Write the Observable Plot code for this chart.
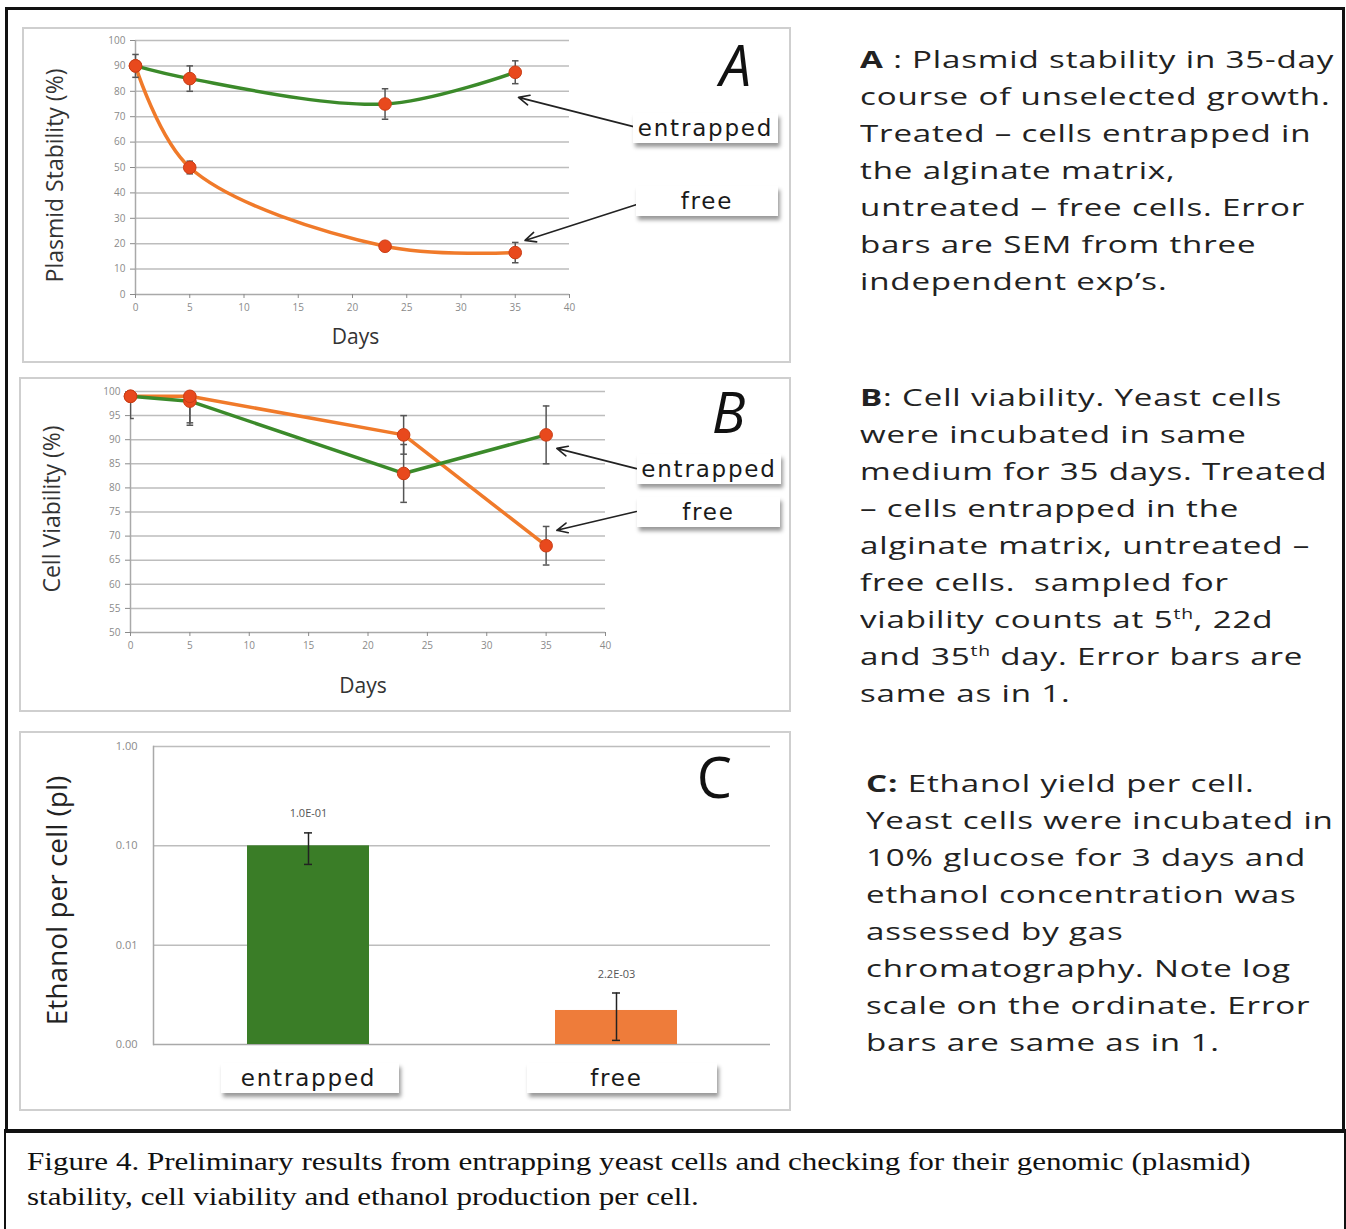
<!DOCTYPE html>
<html><head><meta charset="utf-8">
<script src="https://cdn.jsdelivr.net/npm/d3@7"></script>
<script src="https://cdn.jsdelivr.net/npm/@observablehq/plot@0.6"></script>
<style>
body{margin:0;background:#fff;width:1346px;height:1229px;position:relative;overflow:hidden;}
.panel{position:absolute;border:2px solid #cfcfcf;box-sizing:border-box;}
.holder{position:absolute;z-index:1;}
.callout{position:absolute;z-index:2;background:#fff;box-shadow:2px 4px 4px rgba(0,0,0,0.4);font-family:"DejaVu Sans",sans-serif;font-size:23px;color:#1a1a1a;text-align:center;line-height:30px;letter-spacing:1.8px;}
.catbox{position:absolute;z-index:0;background:#fff;box-shadow:2px 4px 4px rgba(0,0,0,0.4);}
.desc{position:absolute;font-family:"Open Sans",sans-serif;font-size:24px;line-height:37px;color:#222;white-space:nowrap;letter-spacing:0.6px;transform:scaleX(1.38);transform-origin:0 0;}
.desc sup{font-size:14px;line-height:0;}
.caption{position:absolute;left:27px;top:1144px;font-family:"Liberation Serif","Times New Roman",serif;font-size:26px;line-height:35px;color:#111;white-space:nowrap;transform:scaleX(1.195);transform-origin:0 0;}
.bline{position:absolute;background:#111;}
#C svg g[aria-label="x-axis tick label"] text{letter-spacing:1.8px;}
</style></head><body>
<div class="bline" style="left:5px;top:7px;width:1339px;height:3px"></div>
<div class="bline" style="left:5px;top:7px;width:3px;height:1125px"></div>
<div class="bline" style="left:1342px;top:7px;width:3px;height:1125px"></div>
<div class="bline" style="left:4px;top:1129px;width:1342px;height:4px"></div>
<div class="bline" style="left:4px;top:1130px;width:2px;height:99px"></div>
<div class="bline" style="left:1344px;top:1130px;width:2px;height:99px"></div>

<div class="panel" style="left:22px;top:27px;width:769px;height:336px"></div>
<div class="panel" style="left:19px;top:377px;width:772px;height:335px"></div>
<div class="panel" style="left:19px;top:731px;width:772px;height:380px"></div>

<div id="A" class="holder" style="left:23px;top:28px"></div>
<div id="B" class="holder" style="left:20px;top:378px"></div>
<div id="C" class="holder" style="left:20px;top:732px"></div>

<div class="callout" style="left:633px;top:113px;width:145px;height:30px">entrapped</div>
<div class="callout" style="left:636px;top:186px;width:142px;height:30px">free</div>
<div class="callout" style="left:637px;top:454px;width:144px;height:30px">entrapped</div>
<div class="callout" style="left:637px;top:497px;width:143px;height:30px">free</div>

<div class="desc" style="left:860px;top:40px">
<div><b>A</b> : Plasmid stability in 35-day</div>
<div>course of unselected growth.</div>
<div>Treated – cells entrapped in</div>
<div>the alginate matrix,</div>
<div>untreated – free cells. Error</div>
<div>bars are SEM from three</div>
<div>independent exp’s.</div>
</div>
<div class="desc" style="left:860px;top:378px">
<div><b>B</b>: Cell viability. Yeast cells</div>
<div>were incubated in same</div>
<div>medium for 35 days. Treated</div>
<div>– cells entrapped in the</div>
<div>alginate matrix, untreated –</div>
<div>free cells.&nbsp; sampled for</div>
<div>viability counts at 5<sup>th</sup>, 22d</div>
<div>and 35<sup>th</sup> day. Error bars are</div>
<div>same as in 1.</div>
</div>
<div class="desc" style="left:866px;top:764px">
<div><b>C:</b> Ethanol yield per cell.</div>
<div>Yeast cells were incubated in</div>
<div>10% glucose for 3 days and</div>
<div>ethanol concentration was</div>
<div>assessed by gas</div>
<div>chromatography. Note log</div>
<div>scale on the ordinate. Error</div>
<div>bars are same as in 1.</div>
</div>
<div class="caption">Figure 4. Preliminary results from entrapping yeast cells and checking for their genomic (plasmid)<br>stability, cell viability and ethanol production per cell.</div>

<script>
// ---------- data ----------
const days = [0, 5, 23, 35];
const plasmidEntrapped = [90, 85, 75, 87.5];
const plasmidEntrappedErr = [4.5, 5, 6, 4.5];
const plasmidFree = [90, 50, 19, 16.5];
const plasmidFreeErr = [1.5, 2.5, 1, 4];

const viabilityEntrapped = [99, 98, 83, 91];
const viabilityEntrappedErr = [4.6, 5, 6, 6];
const viabilityFree = [99, 99, 91, 68];
const viabilityFreeErr = [1, 5.5, 4, 4];

const categories = ["entrapped", "free"];
const ethanol = [0.1, 0.0022];
const ethanolErr = [0.035, 0.0011];

const xTicks = [0, 5, 10, 15, 20, 25, 30, 35, 40];
const plasmidTicks = [0, 10, 20, 30, 40, 50, 60, 70, 80, 90, 100];
const viabilityTicks = [50, 55, 60, 65, 70, 75, 80, 85, 90, 95, 100];
const ethanolTicks = [0.001, 0.01, 0.1, 1];

// callout arrows (data units: from label to series end)
const arrowsA = [{x1: 45.9, y1: 66.1, x2: 35.3, y2: 77.6}, {x1: 46.2, y1: 35.4, x2: 35.9, y2: 21.3}];
const arrowsB = [{x1: 42.6, y1: 84.0, x2: 35.9, y2: 88.2}, {x1: 42.6, y1: 75.1, x2: 35.9, y2: 71.2}];

// ---------- styles ----------
const GREEN = "#3b8a2a", ORANGE = "#f07a2a", DOT = "#e8491d", DOTS = "#c93d15";
const GRID = "#bdbdbd", AX = "#a9a9a9", TICK = "#8a8a8a";
const FONT = "Open Sans, sans-serif";

function rowsOf(ent, entErr, fr, frErr) {
  const e = days.map((d, i) => ({day: d, v: ent[i], e: entErr[i], s: "entrapped"}));
  const f = days.map((d, i) => ({day: d, v: fr[i], e: frErr[i], s: "free"}));
  return {e, f, all: e.concat(f)};
}

function linePanel({rows, w, h, ml, mr, mt, mb, ydom, yticks, grid, curve, letter, letterDx, letterDy, ytitle, ytDx, ytDy, ytSize, daysDx, daysDy, arrows, capW, clipErr}) {
  return Plot.plot({
    width: w, height: h, marginLeft: ml, marginRight: mr, marginTop: mt, marginBottom: mb,
    style: {background: "transparent", fontFamily: FONT, overflow: "visible"},
    x: {domain: [0, 40]},
    y: {domain: ydom},
    marks: [
      Plot.gridY(grid, {stroke: GRID, strokeOpacity: 1, strokeWidth: 1.5}),
      Plot.ruleY([ydom[0]], {stroke: AX, strokeWidth: 1.5}),
      Plot.ruleX([0], {stroke: AX, strokeWidth: 1.5}),
      Plot.axisY({ticks: yticks, tickSize: 5, tickPadding: 5, fontSize: 10, color: TICK, label: null}),
      Plot.axisX({ticks: xTicks, tickSize: 4, tickPadding: 5, fontSize: 10, color: TICK, label: null}),
      Plot.line(rows.f, {x: "day", y: "v", stroke: ORANGE, strokeWidth: 3.5, curve}),
      Plot.line(rows.e, {x: "day", y: "v", stroke: GREEN, strokeWidth: 3.5, curve}),
      Plot.ruleX(rows.all, {x: "day", y1: d => d.v - d.e, y2: d => d.v + d.e, stroke: "#555", strokeWidth: 1.5, clip: clipErr}),
      Plot.link(rows.all, {x1: d => d.day - capW, x2: d => d.day + capW, y1: d => d.v - d.e, y2: d => d.v - d.e, stroke: "#555", strokeWidth: 1.5, clip: clipErr}),
      Plot.link(rows.all, {x1: d => d.day - capW, x2: d => d.day + capW, y1: d => d.v + d.e, y2: d => d.v + d.e, stroke: "#555", strokeWidth: 1.5, clip: clipErr}),
      Plot.dot(rows.all, {x: "day", y: "v", r: 6.3, fill: DOT, stroke: DOTS, strokeWidth: 1}),
      Plot.arrow(arrows, {x1: "x1", y1: "y1", x2: "x2", y2: "y2", stroke: "#222", strokeWidth: 1.6, headLength: 11, headAngle: 50}),
      Plot.text([letter], {frameAnchor: "top-right", dx: letterDx, dy: letterDy, textAnchor: "middle", lineAnchor: "middle", fontSize: 56, fontStyle: "italic", fill: "#111"}),
      Plot.text([ytitle], {frameAnchor: "left", rotate: -90, dx: ytDx, dy: ytDy, textAnchor: "middle", lineAnchor: "middle", fontSize: ytSize, fill: "#333"}),
      Plot.text(["Days"], {frameAnchor: "bottom", dx: daysDx, dy: daysDy, textAnchor: "middle", lineAnchor: "middle", fontSize: 21, fill: "#333"})
    ]
  });
}

const rowsA = rowsOf(plasmidEntrapped, plasmidEntrappedErr, plasmidFree, plasmidFreeErr);
document.getElementById("A").append(linePanel({
  rows: rowsA, w: 767, h: 334, ml: 112, mr: 221, mt: 12, mb: 68,
  ydom: [0, 100], yticks: plasmidTicks, grid: plasmidTicks.slice(1), curve: "catmull-rom",
  letter: "A", letterDx: 166, letterDy: 28,
  ytitle: "Plasmid Stability (%)", ytDx: -80, ytDy: 8, ytSize: 23,
  daysDx: 3, daysDy: 43, arrows: arrowsA, capW: 0.3, clipErr: false
}));

const rowsB = rowsOf(viabilityEntrapped, viabilityEntrappedErr, viabilityFree, viabilityFreeErr);
document.getElementById("B").append(linePanel({
  rows: rowsB, w: 770, h: 333, ml: 110, mr: 185, mt: 13, mb: 79,
  ydom: [50, 100], yticks: viabilityTicks, grid: viabilityTicks.slice(1), curve: "linear",
  letter: "B", letterDx: 123, letterDy: 24,
  ytitle: "Cell Viability (%)", ytDx: -78, ytDy: -3, ytSize: 23,
  daysDx: -5, daysDy: 54, arrows: arrowsB, capW: 0.28, clipErr: true
}));

// ---------- panel C ----------
const rowsC = categories.map((c, i) => ({cat: c, v: ethanol[i], e: ethanolErr[i]}));
const sci = v => { const [m, ex] = v.toExponential(1).split("e"); const n = +ex; return m + "E" + (n < 0 ? "-" : "+") + String(Math.abs(n)).padStart(2, "0"); };
const chartC = Plot.plot({
  width: 770, height: 378, marginLeft: 133, marginRight: 20, marginTop: 14, marginBottom: 66,
  style: {background: "transparent", fontFamily: FONT, overflow: "visible"},
  x: {domain: categories, paddingInner: 0.605, paddingOuter: 0.3025},
  y: {type: "log", domain: [0.001, 1]},
  marks: [
    Plot.gridY(ethanolTicks.slice(1), {stroke: GRID, strokeOpacity: 1, strokeWidth: 1.5}),
    Plot.ruleY([0.001], {stroke: AX, strokeWidth: 1.5}),
    Plot.frame({anchor: "left", stroke: AX, strokeWidth: 1.5}),
    Plot.barY(rowsC, {x: "cat", y1: 0.001, y2: "v", fill: d => d.cat === "entrapped" ? "#3a7d27" : "#ee7c3a"}),
    Plot.ruleX(rowsC, {x: "cat", y1: d => d.v - d.e, y2: d => d.v + d.e, stroke: "#222", strokeWidth: 1.5, clip: true}),
    Plot.tickY(rowsC, {x: "cat", y: d => d.v - d.e, stroke: "#222", strokeWidth: 1.5, insetLeft: 57, insetRight: 57}),
    Plot.tickY(rowsC, {x: "cat", y: d => d.v + d.e, stroke: "#222", strokeWidth: 1.5, insetLeft: 57, insetRight: 57}),
    Plot.text(rowsC, {x: "cat", y: d => d.v + d.e, text: d => sci(d.v), dy: -19, fontSize: 11, fill: "#555"}),
    Plot.axisY({ticks: ethanolTicks, tickFormat: d3.format(".2f"), tickSize: 0, tickPadding: 16, fontSize: 11, color: TICK, label: null}),
    Plot.axisX({tickSize: 0, tickPadding: 25, fontSize: 23, color: "#1a1a1a", fontFamily: "DejaVu Sans", label: null}),
    Plot.text(["C"], {frameAnchor: "top-right", dx: -56, dy: 34, textAnchor: "middle", lineAnchor: "middle", fontSize: 56, fill: "#111"}),
    Plot.text(["Ethanol per cell (pl)"], {frameAnchor: "left", rotate: -90, dx: -95, dy: 5, textAnchor: "middle", lineAnchor: "middle", fontSize: 28, fill: "#222"})
  ]
});
document.getElementById("C").append(chartC);

// category boxes placed through the x scale
const xs = chartC.scale("x");
const offsets = {entrapped: [-87, 91], free: [-89, 101]};
for (const c of categories) {
  const cx = 20 + xs.apply(c) + xs.bandwidth / 2;
  const b = document.createElement("div");
  b.className = "catbox";
  b.style.left = (cx + offsets[c][0]) + "px";
  b.style.width = (offsets[c][1] - offsets[c][0]) + "px";
  b.style.top = "1063px"; b.style.height = "30px";
  document.body.append(b);
}
</script>
</body></html>
